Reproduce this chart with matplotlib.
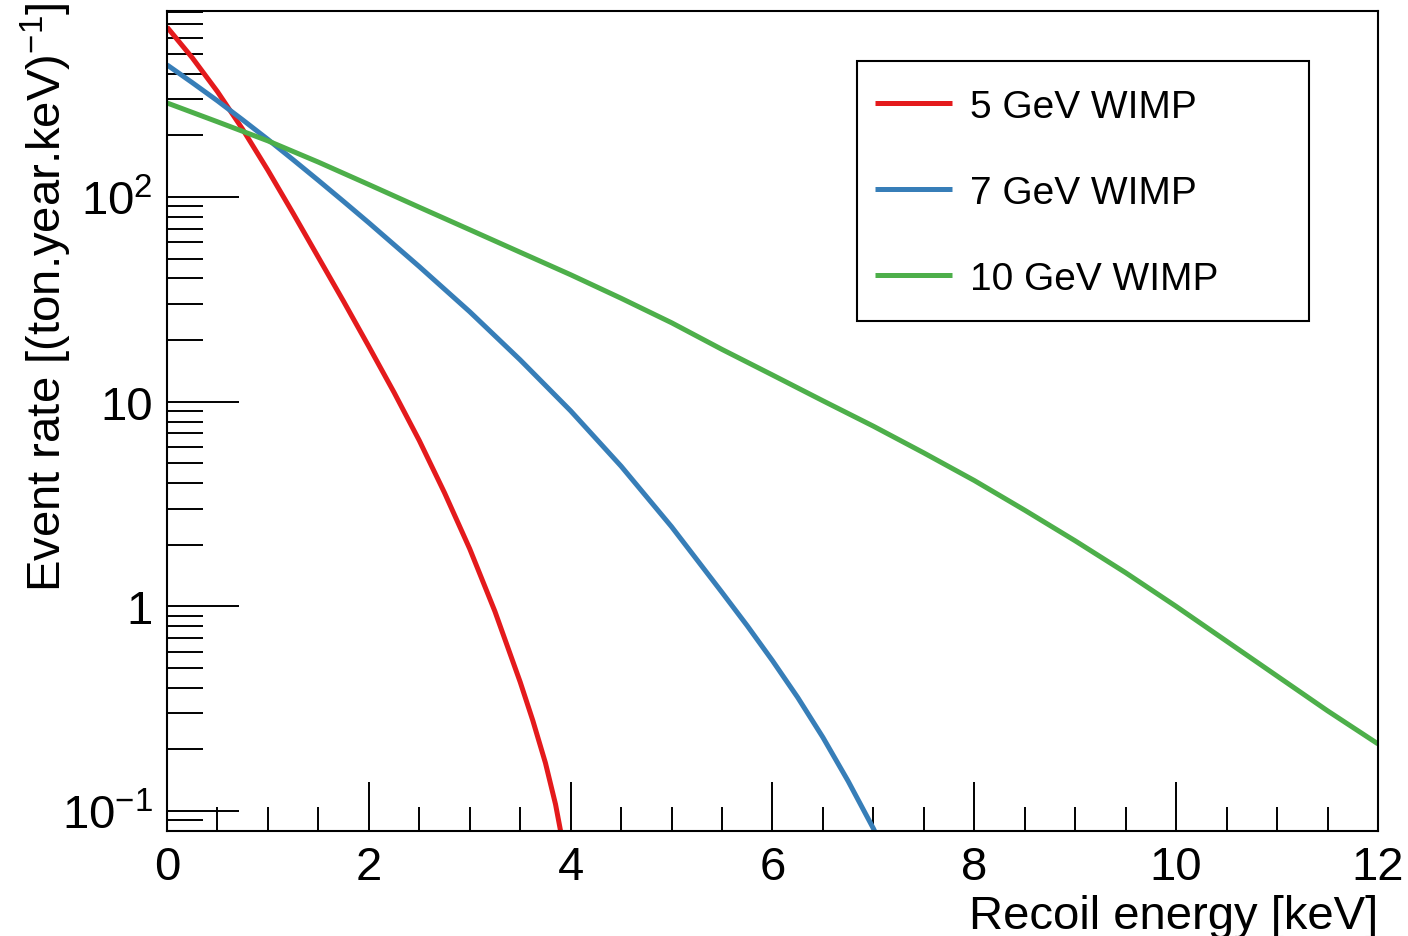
import numpy as np
import matplotlib
matplotlib.use("Agg")
import matplotlib.pyplot as plt
from matplotlib.patches import Rectangle
from matplotlib.ticker import FixedLocator, FixedFormatter, MultipleLocator, LogLocator, NullFormatter

plt.rcParams['font.family'] = ['Liberation Sans', 'DejaVu Sans']
plt.rcParams['mathtext.fontset'] = 'custom'
plt.rcParams['mathtext.rm'] = 'Liberation Sans'
plt.rcParams['mathtext.it'] = 'Liberation Sans:italic'
plt.rcParams['mathtext.bf'] = 'Liberation Sans:bold'

# Spectra (recoil energy in keV, rate per ton.year.keV)
e_5gev = [0.0, 0.25, 0.5, 0.75, 1.0, 1.25, 1.5, 1.75, 2.0, 2.25, 2.5, 2.75,
          3.0, 3.25, 3.5, 3.625, 3.75, 3.85, 3.9, 3.95]
r_5gev = [676, 479, 327, 214, 135, 83.2, 50.7, 30.9, 18.6, 11.1, 6.46, 3.59,
          1.91, 0.944, 0.427, 0.277, 0.172, 0.108, 0.080, 0.056]

e_7gev = [0.0, 0.25, 0.5, 0.75, 1.0, 1.25, 1.5, 1.75, 2.0, 2.5, 3.0, 3.5,
          4.0, 4.5, 5.0, 5.5, 5.75, 6.0, 6.25, 6.5, 6.75, 7.0, 7.1]
r_7gev = [442, 362, 295, 238, 191, 152, 120.5, 95.1, 74.8, 45.7, 27.5, 16.0,
          9.02, 4.84, 2.45, 1.17, 0.804, 0.543, 0.359, 0.229, 0.140, 0.0822, 0.0646]

e_10gev = [0.0, 0.5, 1.0, 1.5, 2.0, 2.5, 3.0, 3.5, 4.0, 4.5, 5.0, 5.5, 6.0,
           6.5, 7.0, 7.5, 8.0, 8.5, 9.0, 9.5, 10.0, 10.5, 11.0, 11.5, 12.0]
r_10gev = [288, 233, 188, 148, 115, 89.1, 69.2, 53.7, 41.7, 32.0, 24.3, 18.0, 13.5,
           10.1, 7.59, 5.62, 4.12, 2.95, 2.09, 1.46, 1.0, 0.676, 0.457, 0.309, 0.213]

labels = ['5 GeV WIMP', '7 GeV WIMP', '10 GeV WIMP']
colors = ['#e41a1c', '#377eb8', '#4daf4a']

y_ticks = [0.1, 1, 10, 100]
y_ticklabels = [r'$\mathregular{10^{-1}}$', '1', '10', r'$\mathregular{10^{2}}$']

fig = plt.figure(figsize=(14.08, 9.37), dpi=100)
ax = fig.add_axes([0.1186, 0.1121, 0.8601, 0.8751])

for e, r, c, lab in zip([e_5gev, e_7gev, e_10gev], [r_5gev, r_7gev, r_10gev], colors, labels):
    ax.plot(e, r, color=c, lw=3.6, label=lab, solid_capstyle='butt')

ax.set_yscale('log')
ax.set_xlim(0, 12)
ax.set_ylim(0.08, 810)

ax.xaxis.set_major_locator(MultipleLocator(2))
ax.xaxis.set_minor_locator(MultipleLocator(0.5))
ax.yaxis.set_major_locator(FixedLocator(y_ticks))
ax.yaxis.set_major_formatter(FixedFormatter(y_ticklabels))
ax.yaxis.set_minor_locator(LogLocator(base=10, subs=np.arange(2, 10)))
ax.yaxis.set_minor_formatter(NullFormatter())

ax.tick_params(axis='both', which='both', direction='in', width=1.4, colors='black',
               top=False, right=False, labelsize=34)
ax.tick_params(axis='x', which='major', length=35, pad=10)
ax.tick_params(axis='x', which='minor', length=17)
ax.tick_params(axis='y', which='major', length=52, pad=10)
ax.tick_params(axis='y', which='minor', length=26)

for s in ax.spines.values():
    s.set_linewidth(1.5)

ax.set_xlabel('Recoil energy [keV]', fontsize=34, loc='right', labelpad=4)
ax.set_ylabel(r'Event rate [(ton.year.keV)$\mathregular{^{-1}}$]', fontsize=34, loc='top')
ax.yaxis.set_label_coords(-0.0768, 1.012)

# legend box (ROOT style TLegend)
ax.add_patch(Rectangle((0.5698, 0.622), 0.373, 0.317, transform=ax.transAxes,
                       facecolor='white', edgecolor='black', lw=1.5, zorder=4))
leg = ax.legend(loc='upper left', bbox_to_anchor=(0.5846, 0.905), borderaxespad=0,
                fontsize=28, handlelength=1.98, handletextpad=0.46,
                labelspacing=1.285, borderpad=0, frameon=False)
leg.set_zorder(5)

fig.savefig('out.png', dpi=100)
